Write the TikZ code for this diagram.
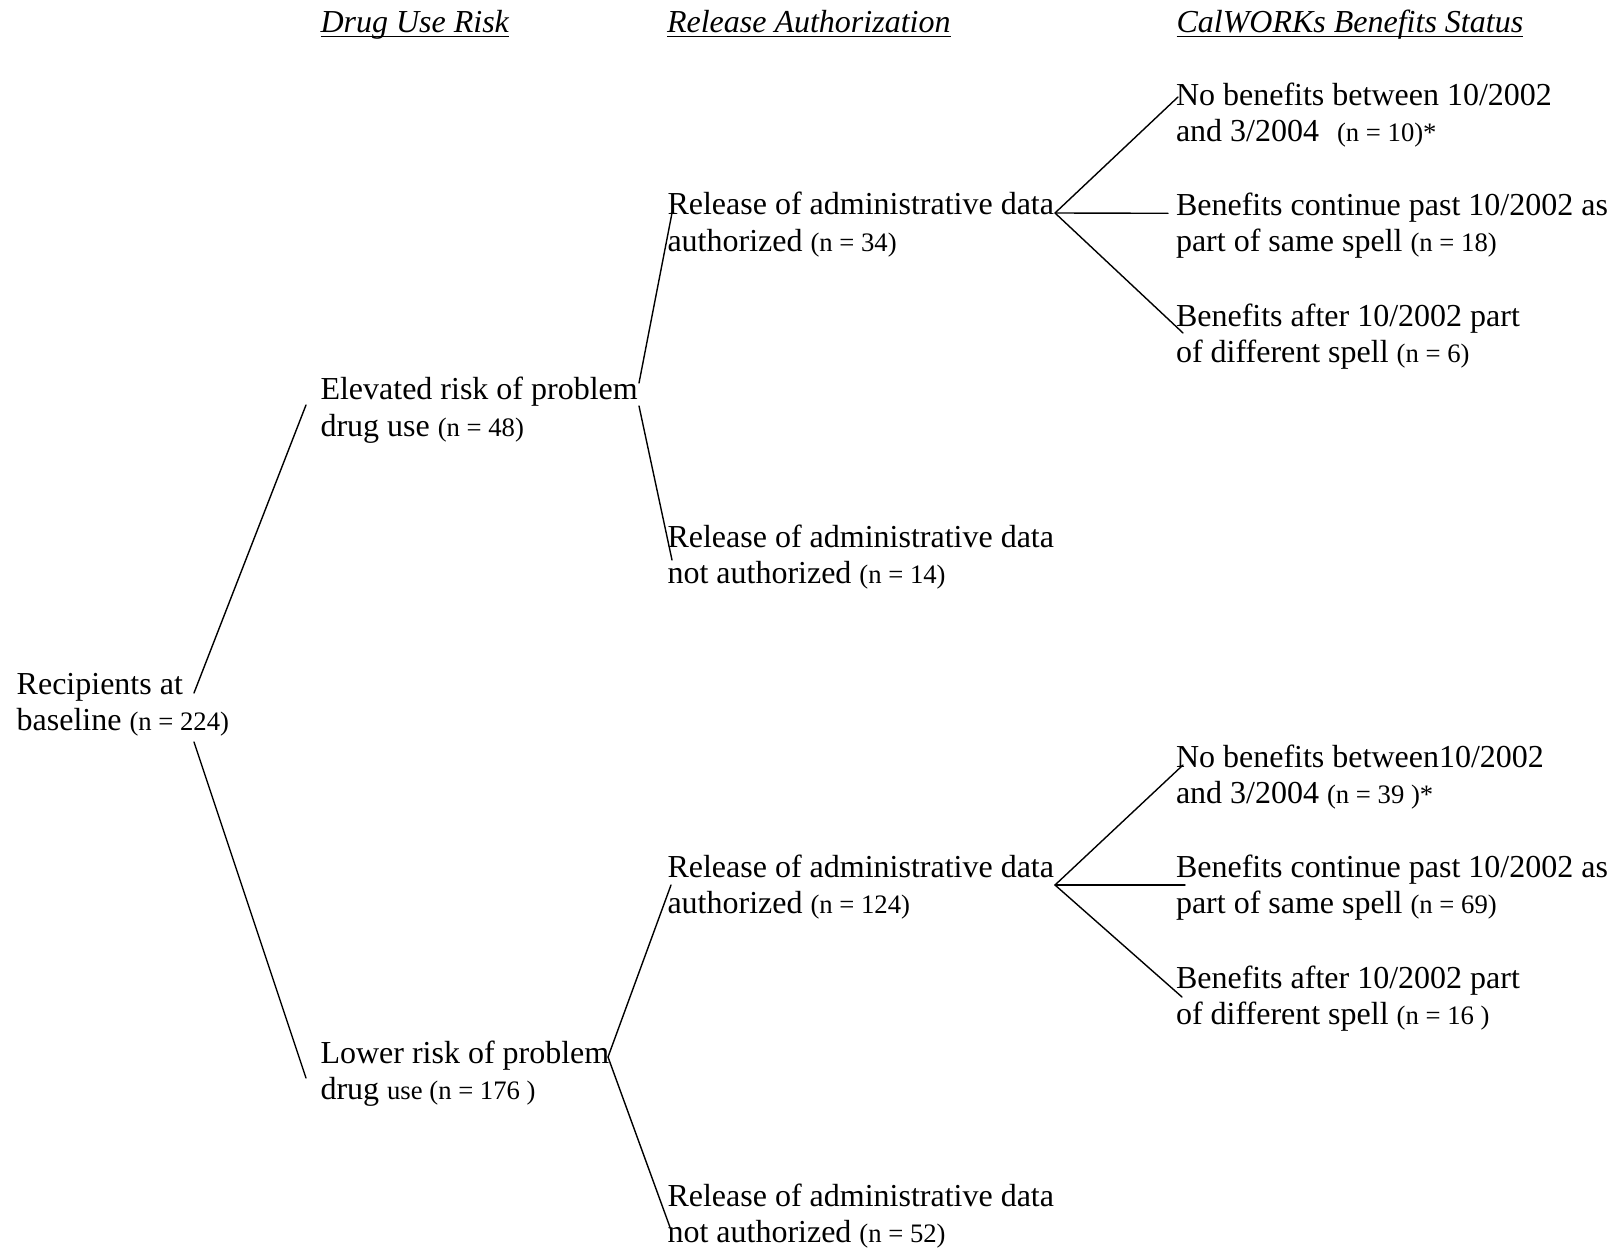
\documentclass[tikz,border=0pt]{standalone}
\usepackage{fontspec}
\setmainfont{Liberation Serif}
\usetikzlibrary{calc}
\newcommand\mklines[2]{\raisebox{-2pt}{\begin{tabular}[t]{@{}l@{}}#1\\#2\end{tabular}}}
\newcommand\nsm[1]{{\fontsize{26.67}{30}\selectfont #1}}
\newcommand\hdul[1]{\setbox0\hbox{#1}\rlap{\vrule width\wd0 height -3.3pt depth 4.8pt}\box0}
\begin{document}
\begin{tikzpicture}[x=1pt,y=-1pt,
  txt/.style={anchor=base west,inner sep=0pt,outer sep=0pt,font=\fontsize{32}{36.5}\selectfont},
  hd/.style={anchor=base west,inner sep=0pt,outer sep=0pt,font=\fontsize{32}{36.5}\selectfont\itshape},
  conn/.style={line width=1.4pt,line cap=round}]
\useasboundingbox[fill=white] (0,0) rectangle (1621,1249);
% headings
\node[hd] (hDrug) at (320.5,32.5) {\hdul{Drug Use Risk}};
\node[hd] (hRel) at (667,32.5) {\hdul{Release Authorization}};
\node[hd] (hCal) at (1176.5,32.5) {\hdul{CalWORKs Benefits Status}};
% nodes
\node[txt] (root) at (16.7,692) {\mklines{Recipients at}{baseline \nsm{(n = 224)}}};
\node[txt] (elev) at (320.5,397.5) {\mklines{Elevated risk of problem}{drug use \nsm{(n = 48)}}};
\node[txt] (lower) at (320.5,1061) {\mklines{Lower risk of problem}{drug \nsm{use (n = 176 )}}};
\node[txt] (auth1) at (667.5,213) {\mklines{Release of administrative data}{authorized \nsm{(n = 34)}}};
\node[txt] (noauth1) at (667.5,545) {\mklines{Release of administrative data}{not authorized \nsm{(n = 14)}}};
\node[txt] (auth2) at (667.5,875) {\mklines{Release of administrative data}{authorized \nsm{(n = 124)}}};
\node[txt] (noauth2) at (667.5,1204) {\mklines{Release of administrative data}{not authorized \nsm{(n = 52)}}};
\node[txt] (b1) at (1176,103.3) {\mklines{No benefits between 10/2002}{and 3/2004\hspace{18pt}\nsm{(n = 10)*}}};
\node[txt] (b2) at (1176,213.3) {\mklines{Benefits continue past 10/2002 as}{part of same spell \nsm{(n = 18)}}};
\node[txt] (b3) at (1176,324) {\mklines{Benefits after 10/2002 part}{of different spell \nsm{(n = 6)}}};
\node[txt] (b4) at (1176,765) {\mklines{No benefits between10/2002}{and 3/2004 \nsm{(n = 39 )*}}};
\node[txt] (b5) at (1176,875) {\mklines{Benefits continue past 10/2002 as}{part of same spell \nsm{(n = 69)}}};
\node[txt] (b6) at (1176,986) {\mklines{Benefits after 10/2002 part}{of different spell \nsm{(n = 16 )}}};
% connectors
\draw[conn] ($(root.base west)+(177.3,1)$) -- ($(elev.base west)+(-14.5,7.5)$);
\draw[conn] ($(root.base west)+(177.3,50)$) -- ($(lower.base west)+(-14.5,17)$);
\draw[conn] ($(elev.base west)+(318.5,-14.5)$) -- ($(auth1.base west)+(4.5,0)$);
\draw[conn] ($(elev.base west)+(318.5,8.5)$) -- ($(noauth1.base west)+(4.5,15)$);
\draw[conn] ($(lower.base west)+(287.5,-4)$) -- ($(auth2.base west)+(3.5,10)$);
\draw[conn] ($(lower.base west)+(287.5,-4)$) -- ($(noauth2.base west)+(3.5,26)$);
\draw[conn] ($(auth1.base west)+(387.5,0)$) -- ($(b1.base west)+(2,-6.3)$);
\draw[conn] ($(auth1.base west)+(387.5,0)$) -- ($(b2.base west)+(-8,0)$);
\draw[conn] ($(auth1.base west)+(387.5,0)$) -- ($(b3.base west)+(7,9)$);
\draw[conn] ($(auth2.base west)+(387.5,10)$) -- ($(b4.base west)+(7,0)$);
\draw[conn] ($(auth2.base west)+(387.5,10)$) -- ($(b5.base west)+(9,10)$);
\draw[conn] ($(auth2.base west)+(387.5,10)$) -- ($(b6.base west)+(6,11)$);
\end{tikzpicture}
\end{document}
